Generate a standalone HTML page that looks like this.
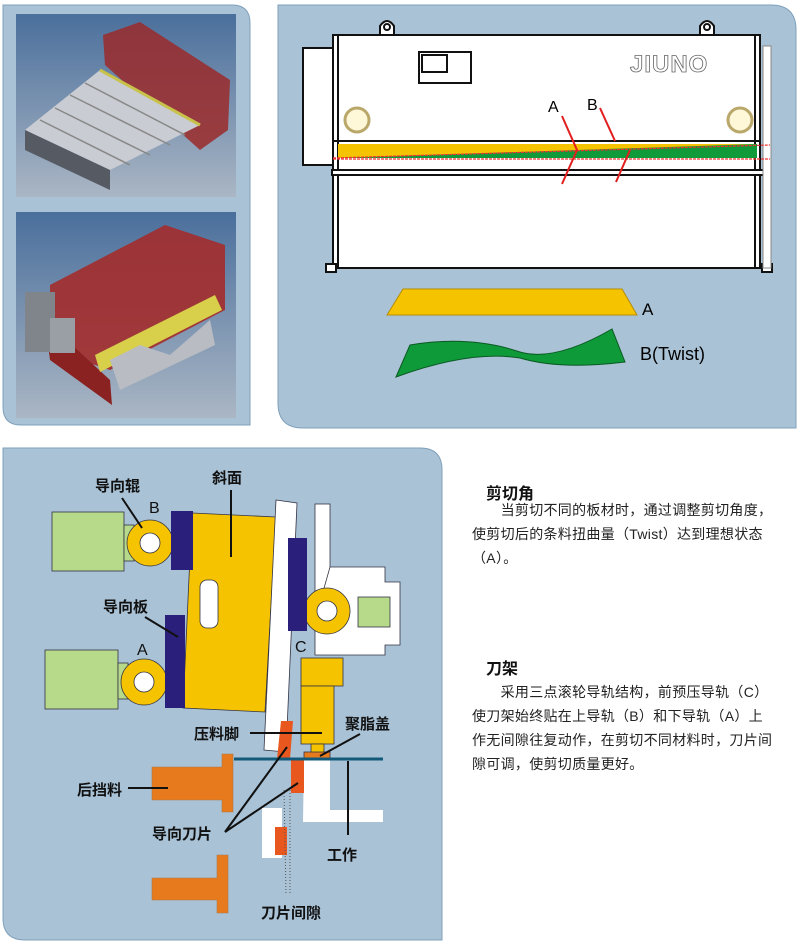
<!DOCTYPE html>
<html><head><meta charset="utf-8"><style>
body{margin:0;width:800px;height:945px;background:#fff;position:relative;overflow:hidden;font-family:"Liberation Sans","Noto Sans CJK SC",sans-serif}
.t{position:absolute;color:#222;font-size:14px;line-height:24px;letter-spacing:0.3px}
.h{position:absolute;font-weight:bold;font-size:16px;color:#111}
</style></head><body>
<svg width="800" height="945" style="position:absolute;left:0;top:0" font-family="Liberation Sans, Noto Sans CJK SC, sans-serif">
<defs>
<linearGradient id="sky" x1="0" y1="0" x2="0" y2="1"><stop offset="0" stop-color="#4a6f9c"/><stop offset="1" stop-color="#aab6c4"/></linearGradient>
</defs>
<!-- left panel -->
<path d="M3,5 H232 Q250,5 250,23 V425 H21 Q3,425 3,407 Z" fill="#a9c2d6" stroke="#7fa0bb"/>
<rect x="16" y="14" width="220" height="183" fill="url(#sky)"/>
<rect x="16" y="212" width="220" height="206" fill="url(#sky)"/>
<!-- machine 1 -->
<polygon points="103,35 140,22 230,80 228,130 200,150 105,65" fill="#9a2a2a" opacity="0.85"/>
<polygon points="25,130 100,70 200,125 110,170" fill="#c9ccd2"/>
<polygon points="25,130 110,170 110,190 25,150" fill="#555a63"/>
<g stroke="#888" stroke-width="1.5"><line x1="40" y1="120" x2="130" y2="165"/><line x1="55" y1="108" x2="150" y2="155"/><line x1="70" y1="95" x2="170" y2="145"/><line x1="85" y1="83" x2="185" y2="135"/></g>
<line x1="100" y1="70" x2="200" y2="125" stroke="#c8c24a" stroke-width="3"/>
<!-- machine 2 -->
<polygon points="50,285 165,225 225,245 225,310 110,370 50,350" fill="#a32c2c" opacity="0.9"/>
<polygon points="45,320 110,380 112,405 50,360" fill="#8a2222"/>
<polygon points="95,355 215,295 222,310 100,372" fill="#d8d04a"/>
<polygon points="110,360 140,345 170,355 210,320 215,345 120,390" fill="#b9bdc3"/>
<rect x="25" y="292" width="30" height="60" fill="#80858c"/>
<rect x="50" y="318" width="25" height="35" fill="#9a9fa6"/>
<!-- top right panel -->
<path d="M278,5 H771 Q796,5 796,30 V428 H303 Q278,428 278,403 Z" fill="#a9c2d6" stroke="#7fa0bb"/>
<g stroke="#111" stroke-width="2" fill="#fff">
<rect x="303" y="48" width="30" height="117"/>
<path d="M380,35 V26 Q387,16 394,26 V35" /><circle cx="387" cy="27" r="3"/>
<path d="M700,35 V26 Q707,16 714,26 V35"/><circle cx="707" cy="27" r="3"/>
<rect x="333" y="35" width="427" height="233"/>
<line x1="338" y1="35" x2="338" y2="268"/><line x1="755" y1="35" x2="755" y2="268"/>
<rect x="419" y="52" width="52" height="31"/><rect x="422" y="55" width="25" height="17"/>
<line x1="333" y1="141" x2="760" y2="141"/>
<rect x="332" y="170" width="432" height="5"/>
<rect x="326" y="264" width="10" height="8"/><rect x="762" y="264" width="10" height="8"/>
</g>
<rect x="763" y="46" width="8" height="222" fill="#fff" stroke="#888"/>
<text x="630" y="72" font-size="24" fill="#fff" stroke="#666" stroke-width="0.8" font-weight="bold" letter-spacing="1">JIUNO</text>
<circle cx="357" cy="120" r="12" fill="#fff8d8" stroke="#b9a86a" stroke-width="3"/>
<circle cx="740" cy="120" r="12" fill="#fff8d8" stroke="#b9a86a" stroke-width="3"/>
<rect x="338" y="144" width="419" height="14" fill="#f6c300"/>
<polygon points="338,158 757,144 757,158" fill="#109a3a"/>
<line x1="333" y1="159" x2="770" y2="159" stroke="#e33" stroke-width="1.2" stroke-dasharray="3,1"/>
<line x1="333" y1="158" x2="770" y2="145" stroke="#e33" stroke-width="1.2" stroke-dasharray="3,1"/>
<g stroke="#e21e1e" stroke-width="2" fill="none">
<polyline points="562,116 577,150 562,184"/>
<polyline points="600,108 615,141"/>
<line x1="630" y1="150" x2="616" y2="182"/>
</g>
<text x="548" y="112" font-size="16">A</text><text x="587" y="110" font-size="16">B</text>
<polygon points="387,315 403,289 622,289 637,315" fill="#f6c300" stroke="#b58c00"/>
<text x="642" y="315" font-size="17">A</text>
<path d="M396,377 L410,345 Q470,335 520,352 Q555,362 612,329 L625,362 Q560,370 520,358 Q470,350 396,377 Z" fill="#0f9a3a" stroke="#0a5a22"/>
<text x="640" y="360" font-size="18">B(Twist)</text>
<!-- bottom panel -->
<path d="M3,448 H420 Q442,448 442,470 V940 H25 Q3,940 3,918 Z" fill="#a9c2d6" stroke="#7fa0bb"/>
<g stroke="#334" stroke-width="0.8">
<rect x="52" y="512" width="72" height="59" fill="#b6d98a"/>
<rect x="45" y="650" width="73" height="59" fill="#b6d98a"/>
<rect x="124" y="525" width="10" height="36" fill="#b6d98a"/>
<rect x="118" y="663" width="10" height="36" fill="#b6d98a"/>
<circle cx="150" cy="543" r="23" fill="#f6c300"/><circle cx="150" cy="543" r="10" fill="#fff"/>
<circle cx="144" cy="682" r="23" fill="#f6c300"/><circle cx="144" cy="682" r="10" fill="#fff"/>
<polygon points="192,513 276,517 265,712 183,708" fill="#f6c300"/>
<rect x="200" y="580" width="18" height="48" rx="7" fill="#fff"/>
<polygon points="276,500 297,503 286,752 264,750" fill="#fff"/>
<rect x="315" y="504" width="15" height="115" fill="#fff"/>
<polygon points="330,567 385,567 385,582 400,582 400,645 385,645 385,655 315,655 315,620" fill="#fff"/>
<rect x="301" y="658" width="42" height="28" fill="#f6c300"/>
<rect x="301" y="686" width="33" height="58" fill="#f6c300"/>
<rect x="311" y="744" width="13" height="9" fill="#f6c300"/>
<rect x="304" y="752" width="26" height="6" fill="#e87a1e"/>
<circle cx="327" cy="611" r="23" fill="#f6c300"/><circle cx="327" cy="611" r="10" fill="#fff"/>
<rect x="358" y="597" width="32" height="30" fill="#b6d98a"/>
</g>
<rect x="171" y="511" width="22" height="59" fill="#2a1f7a"/>
<rect x="165" y="615" width="20" height="93" fill="#2a1f7a"/>
<rect x="288" y="538" width="19" height="93" fill="#2a1f7a"/>
<polygon points="304,760 330,760 330,810 383,810 383,822 303,822" fill="#fff"/>
<rect x="262" y="808" width="20" height="50" fill="#fff"/>
<rect x="275" y="827" width="12" height="28" fill="#e8581e"/>
<polygon points="281,721 293,721 290,759 277,759" fill="#e8581e"/>
<rect x="291" y="760" width="13" height="33" fill="#e8581e"/>
<g fill="#e87a1e" stroke="#a74" stroke-width="0.6">
<polygon points="222,754 233,754 233,812 222,812 222,800 152,800 152,767 222,767"/>
<polygon points="217,855 228,855 228,913 217,913 217,900 152,900 152,878 217,878"/>
</g>
<line x1="234" y1="759" x2="383" y2="759" stroke="#135a7a" stroke-width="3"/>
<g stroke="#111" stroke-width="2" fill="none">
<line x1="122" y1="498" x2="142" y2="528"/>
<line x1="231" y1="490" x2="231" y2="557"/>
<line x1="145" y1="617" x2="178" y2="637"/>
<line x1="250" y1="733" x2="322" y2="733"/>
<line x1="360" y1="734" x2="320" y2="756"/>
<line x1="128" y1="788" x2="168" y2="788"/>
<line x1="348" y1="761" x2="348" y2="835"/>
<line x1="225" y1="832" x2="287" y2="747"/>
<line x1="225" y1="832" x2="298" y2="783"/>
</g>
<line x1="284" y1="790" x2="286" y2="895" stroke="#555" stroke-dasharray="1,2"/>
<line x1="290" y1="790" x2="290" y2="895" stroke="#555" stroke-dasharray="1,2"/>
<g font-size="15" font-weight="bold" fill="#111">
<text x="95" y="491">导向辊</text><text x="212" y="483">斜面</text>
<text x="103" y="612">导向板</text><text x="194" y="739">压料脚</text>
<text x="345" y="729">聚脂盖</text><text x="77" y="795">后挡料</text>
<text x="152" y="839">导向刀片</text><text x="327" y="860">工作</text>
<text x="261" y="918">刀片间隙</text>
</g>
<g font-size="16" fill="#111"><text x="149" y="513">B</text><text x="137" y="655">A</text><text x="295" y="652">C</text></g>
</svg>
<div class="h" style="left:486px;top:480px">剪切角</div>
<div class="t" style="left:472px;top:498px;width:330px">　　当剪切不同的板材时，通过调整剪切角度，<br>使剪切后的条料扭曲量（Twist）达到理想状态<br>（A）。</div>
<div class="h" style="left:486px;top:655px">刀架</div>
<div class="t" style="left:472px;top:680px;width:330px">　　采用三点滚轮导轨结构，前预压导轨（C）<br>使刀架始终贴在上导轨（B）和下导轨（A）上<br>作无间隙往复动作，在剪切不同材料时，刀片间<br>隙可调，使剪切质量更好。</div>
</body></html>
